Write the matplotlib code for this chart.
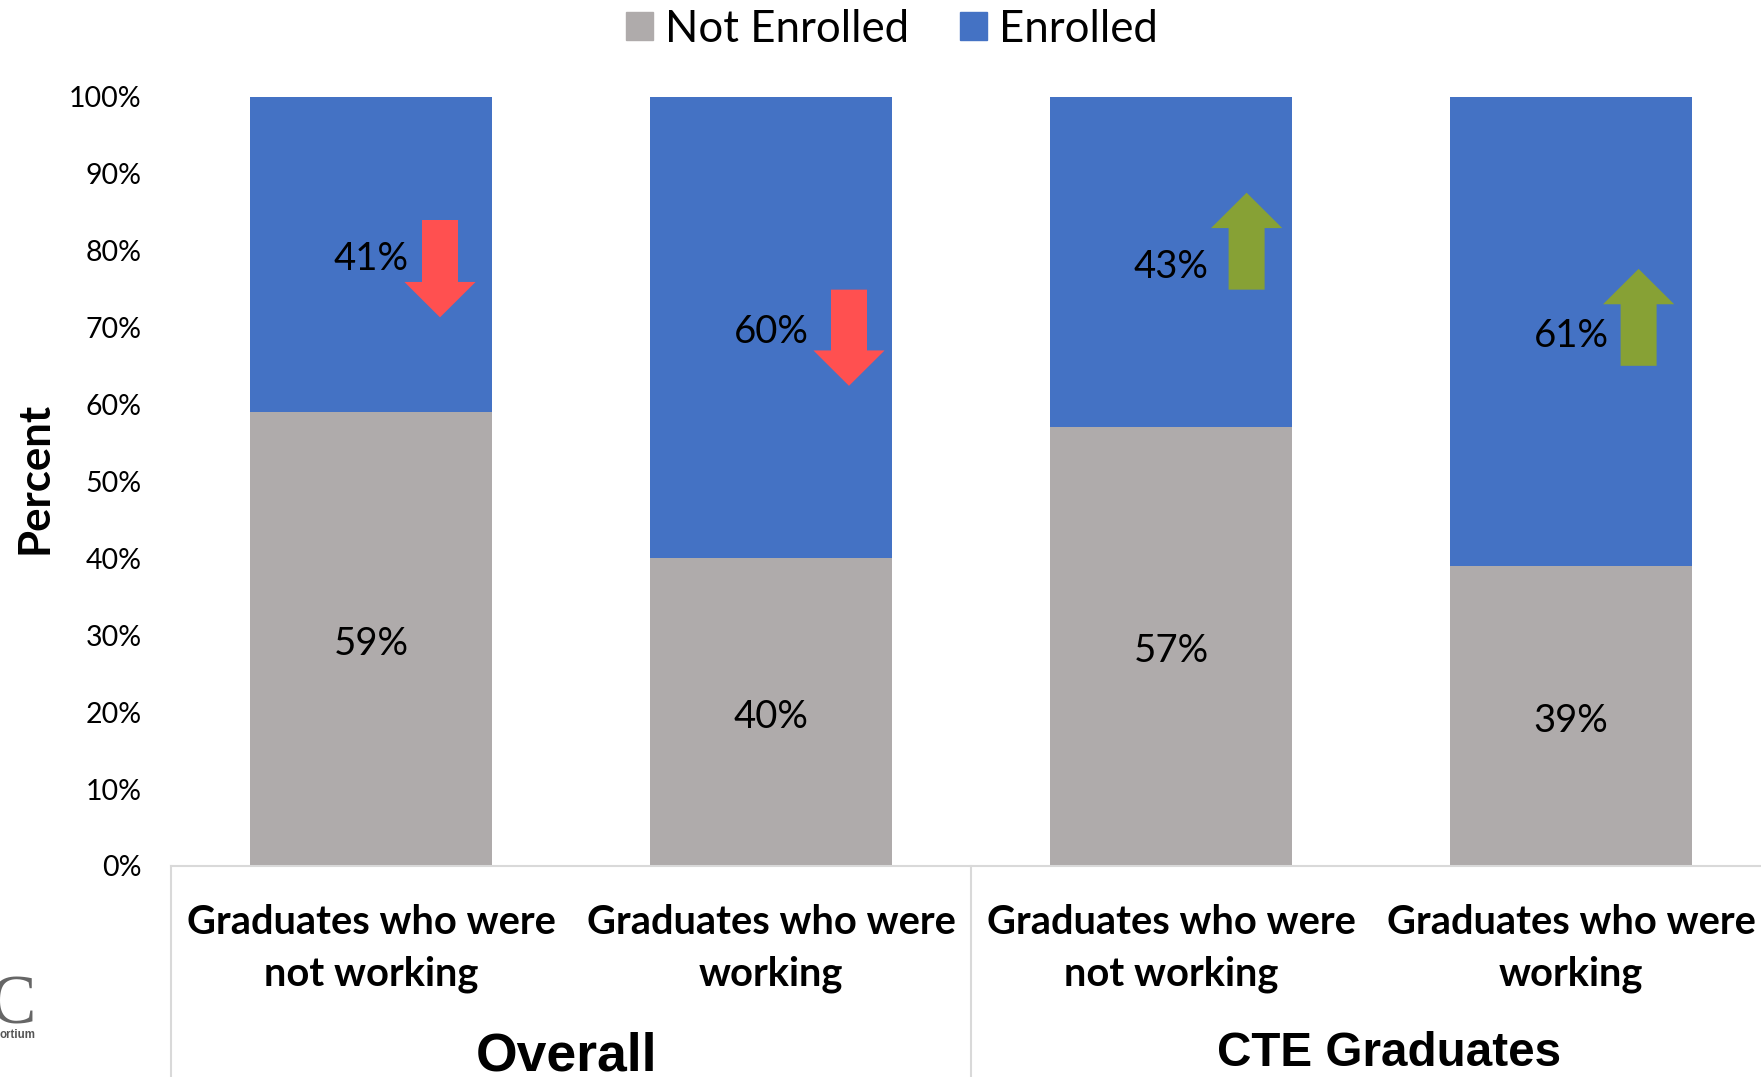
import matplotlib
matplotlib.use("Agg")
import matplotlib.pyplot as plt
from matplotlib.patches import FancyArrow, Patch

categories = ["Graduates who were\nnot working", "Graduates who were\nworking",
              "Graduates who were\nnot working", "Graduates who were\nworking"]
not_enrolled = [59, 40, 57, 39]
enrolled = [41, 60, 43, 61]
groups = ["Overall", "CTE Graduates"]
yticks = list(range(0, 101, 10))

# arrows next to the enrolled labels: x in category units, start/end in percent
arrow_x = [0.1725, 1.195, 2.189, 3.169]
arrow_start = [83.95, 74.9, 74.9, 65.0]
arrow_end = [71.3, 62.4, 87.5, 77.6]
arrow_colors = ["#FF5050", "#FF5050", "#87A135", "#87A135"]

GRAY = "#AFABAB"
BLUE = "#4472C4"
LINE = "#D9D9D9"
W, H = 1761, 1077

plt.rcParams["font.family"] = "Lato"

fig = plt.figure(figsize=(W / 100, H / 100), dpi=100)
# the category axis runs a little past the right edge of the figure
ax = fig.add_axes([171 / W, 1 - 866 / H, 1600 / W, 769.5 / H])

x = list(range(len(categories)))
ax.bar(x, not_enrolled, width=0.605, color=GRAY)
ax.bar(x, enrolled, width=0.605, bottom=not_enrolled, color=BLUE)

ax.set_xlim(-0.5, 3.5)
ax.set_ylim(0, 100)
ax.set_yticks(yticks)
ax.set_yticklabels([f"{v}%" for v in yticks], fontsize=20.5)
ax.tick_params(axis="y", length=0, pad=21)
ax.set_xticks([])
for side in ["top", "right", "left"]:
    ax.spines[side].set_visible(False)
ax.spines["bottom"].set_color(LINE)
ax.spines["bottom"].set_linewidth(1.5)

ax.set_ylabel("Percent", fontsize=31.5, fontweight="bold")
ax.yaxis.set_label_coords(-0.073, 0.504)

for i in x:
    ax.text(i, not_enrolled[i] / 2 - 0.6, f"{not_enrolled[i]}%", ha="center", va="center", fontsize=27.5)
    ax.text(i, not_enrolled[i] + enrolled[i] / 2 - 0.6, f"{enrolled[i]}%", ha="center", va="center", fontsize=27.5)
    ax.text(i, -10.75, categories[i], ha="center", va="center", fontsize=28.7,
            fontweight="bold", linespacing=1.5, clip_on=False)

for ax_x, start, end, col in zip(arrow_x, arrow_start, arrow_end, arrow_colors):
    ax.add_patch(FancyArrow(ax_x, start, 0, end - start, width=0.09, head_width=0.178,
                            head_length=4.6, length_includes_head=True, color=col, lw=0))

# dividers below the axis between the two groups
for div in [-0.5, 1.5]:
    ax.plot([div, div], [0, -28], color=LINE, lw=1.5, clip_on=False)

ax.text(0.49, -24.8, groups[0], ha="center", va="center", fontsize=38.5, fontweight="bold",
        family="Liberation Sans", clip_on=False)
ax.text(2.544, -24.4, groups[1], ha="center", va="center", fontsize=34.3, fontweight="bold",
        family="Liberation Sans", clip_on=False)

handles = [Patch(color=GRAY, label="Not Enrolled"), Patch(color=BLUE, label="Enrolled")]
fig.legend(handles=handles, loc="center", bbox_to_anchor=(892 / W, 1 - 29 / H), ncol=2,
           frameon=False, fontsize=31.5, handlelength=0.62, handleheight=0.62,
           handletextpad=0.28, columnspacing=1.15, borderpad=0)

# cropped logo in the lower left corner
fig.text(36 / W, 1 - 1023 / H, "C", ha="right", va="baseline", fontsize=50, color="#666666",
         family="Liberation Serif")
fig.text(36 / W, 1 - 1038 / H, "ortium", ha="right", va="baseline", fontsize=8.3,
         color="#555555", fontweight="bold", family="Liberation Sans")

fig.savefig("out.png", dpi=100)
